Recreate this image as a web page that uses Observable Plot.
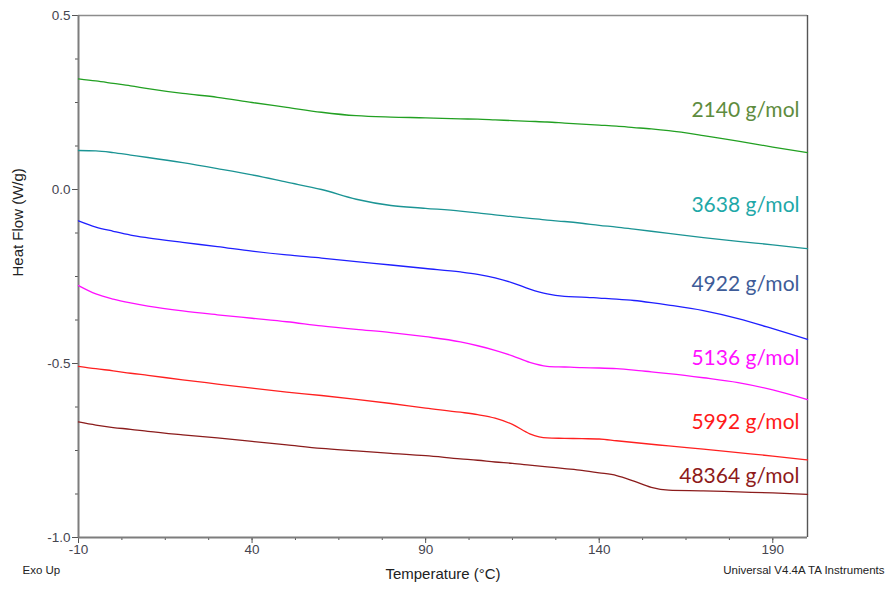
<!DOCTYPE html>
<html>
<head>
<meta charset="utf-8">
<script src="https://cdn.jsdelivr.net/npm/d3@7"></script>
<script src="https://cdn.jsdelivr.net/npm/@observablehq/plot@0.6"></script>
<style>
  html, body { margin: 0; padding: 0; background: #ffffff; }
  #chart { width: 889px; height: 592px; }
  #chart svg g[aria-label$="tick label"],
  #chart svg g[aria-label$="tick label"] text { font-size: 13.5px !important; }
</style>
</head>
<body>
<div id="chart"></div>
<script>
// Temperature grid (°C) shared by every curve
const temperature = [-10, -5, 0, 5, 10, 20, 30, 40, 50, 60, 70, 80, 90, 100, 105, 110, 115, 120, 125, 130, 135, 140, 145, 150, 155, 160, 170, 180, 190, 200];

// Heat flow (W/g) for each molar mass
const flow2140  = [0.318, 0.312, 0.305, 0.298, 0.290, 0.276, 0.265, 0.250, 0.236, 0.222, 0.212, 0.208, 0.206, 0.203, 0.202, 0.200, 0.198, 0.196, 0.194, 0.191, 0.188, 0.185, 0.182, 0.178, 0.174, 0.169, 0.155, 0.139, 0.122, 0.106];
const flow3638  = [0.112, 0.111, 0.106, 0.099, 0.092, 0.077, 0.060, 0.042, 0.021, 0.000, -0.028, -0.046, -0.054, -0.062, -0.067, -0.073, -0.078, -0.083, -0.088, -0.092, -0.097, -0.103, -0.108, -0.114, -0.120, -0.126, -0.138, -0.149, -0.159, -0.170];
const flow4922  = [-0.090, -0.108, -0.120, -0.131, -0.139, -0.152, -0.164, -0.177, -0.188, -0.197, -0.207, -0.217, -0.227, -0.237, -0.244, -0.254, -0.268, -0.286, -0.300, -0.307, -0.309, -0.312, -0.315, -0.319, -0.325, -0.332, -0.348, -0.371, -0.400, -0.431];
const flow5136  = [-0.276, -0.300, -0.315, -0.326, -0.335, -0.349, -0.360, -0.370, -0.380, -0.392, -0.402, -0.411, -0.423, -0.438, -0.449, -0.462, -0.478, -0.497, -0.508, -0.510, -0.512, -0.513, -0.515, -0.519, -0.524, -0.529, -0.541, -0.555, -0.576, -0.604];
const flow5992  = [-0.508, -0.515, -0.521, -0.528, -0.534, -0.547, -0.559, -0.571, -0.582, -0.592, -0.603, -0.615, -0.628, -0.640, -0.647, -0.657, -0.675, -0.702, -0.714, -0.715, -0.716, -0.717, -0.722, -0.727, -0.732, -0.737, -0.746, -0.756, -0.766, -0.777];
const flow48364 = [-0.668, -0.677, -0.684, -0.689, -0.695, -0.705, -0.714, -0.724, -0.734, -0.744, -0.751, -0.758, -0.765, -0.774, -0.778, -0.783, -0.787, -0.792, -0.797, -0.802, -0.807, -0.814, -0.822, -0.838, -0.856, -0.864, -0.866, -0.869, -0.872, -0.876];

const seriesNames = ["2140 g/mol", "3638 g/mol", "4922 g/mol", "5136 g/mol", "5992 g/mol", "48364 g/mol"];
const seriesFlows = [flow2140, flow3638, flow4922, flow5136, flow5992, flow48364];
const lineColors  = ["#22a022", "#1b9494", "#1f1fff", "#ff10ff", "#ff2020", "#8b1c1c"];
const labelColors = ["#5e8c3e", "#1ea8a8", "#3e5c98", "#ff10ff", "#ff1a1a", "#8e1a1a"];
const labelY      = [0.227, -0.046, -0.273, -0.486, -0.670, -0.825];

// Axis ticks
const xTicks = [-10, 40, 90, 140, 190];
const xMinorTicks = [-10, 2.5, 15, 27.5, 40, 52.5, 65, 77.5, 90, 102.5, 115, 127.5, 140, 152.5, 165, 177.5, 190];
const yTicks = [0.5, 0.0, -0.5, -1.0];
const yMinorTicks = [0.5, 0.375, 0.25, 0.125, 0, -0.125, -0.25, -0.375, -0.5, -0.625, -0.75, -0.875, -1.0];

const rows = [];
seriesFlows.forEach((flows, i) => {
  temperature.forEach((t, j) => rows.push({series: seriesNames[i], color: lineColors[i], t, v: flows[j]}));
});
const labels = seriesNames.map((name, i) => ({name, y: labelY[i], color: labelColors[i]}));

const tickColor = "#555555";
const textColor = "#45454f";

const chart = Plot.plot({
  width: 889,
  height: 592,
  marginLeft: 78,
  marginRight: 82,
  marginTop: 15,
  marginBottom: 55,
  x: {domain: [-10, 200]},
  y: {domain: [-1, 0.5]},
  color: {type: "identity"},
  style: {fontFamily: "'Liberation Sans', Arial, sans-serif", fontSize: "13.5px", color: textColor, background: "#ffffff"},
  marks: [
    // minor ticks
    Plot.axisX({ticks: xMinorTicks, tickSize: 3, tickFormat: () => "", label: null, stroke: tickColor}),
    Plot.axisY({ticks: yMinorTicks, tickSize: 3, tickFormat: () => "", label: null, stroke: tickColor}),
    // major ticks
    Plot.axisX({ticks: xTicks, tickSize: 6, tickPadding: 1, tickFormat: d => String(d), label: null, stroke: tickColor, fill: textColor, fontSize: 13.5}),
    Plot.axisY({ticks: yTicks, tickSize: 6, tickPadding: 2, tickFormat: d => d.toFixed(1), label: null, stroke: tickColor, fill: textColor, fontSize: 13.5}),
    // frame
    Plot.ruleY([0.5], {stroke: "#8c8c8c", strokeWidth: 1.6}),
    Plot.ruleX([200], {stroke: "#555555", strokeWidth: 1.4}),
    Plot.ruleX([-10], {stroke: "#7d7d7d", strokeWidth: 2}),
    Plot.ruleY([-1], {stroke: "#7d7d7d", strokeWidth: 2}),
    // curves
    Plot.line(rows, {x: "t", y: "v", z: "series", stroke: "color", strokeWidth: 1.3, curve: "monotone-x"}),
    // curve labels
    Plot.text(labels, {x: 200, y: "y", text: "name", fill: "color", textAnchor: "end", dx: -8, fontFamily: "Lato, 'Open Sans', sans-serif", fontSize: 21}),
    // axis titles and notes
    Plot.text(["Temperature (°C)"], {frameAnchor: "bottom", dy: 41, fontSize: 15, fill: "#222"}),
    Plot.text(["Heat Flow (W/g)"], {frameAnchor: "left", dx: -60, rotate: -90, fontSize: 15, fill: "#222"}),
    Plot.text(["Exo Up"], {frameAnchor: "bottom-left", dx: -56, dy: 36, textAnchor: "start", fontSize: 11.5, fill: "#222"}),
    Plot.text(["Universal V4.4A TA Instruments"], {frameAnchor: "bottom-right", dx: 77, dy: 36, textAnchor: "end", fontSize: 11.5, fill: "#222"})
  ]
});
document.getElementById("chart").appendChild(chart);
</script>
</body>
</html>
